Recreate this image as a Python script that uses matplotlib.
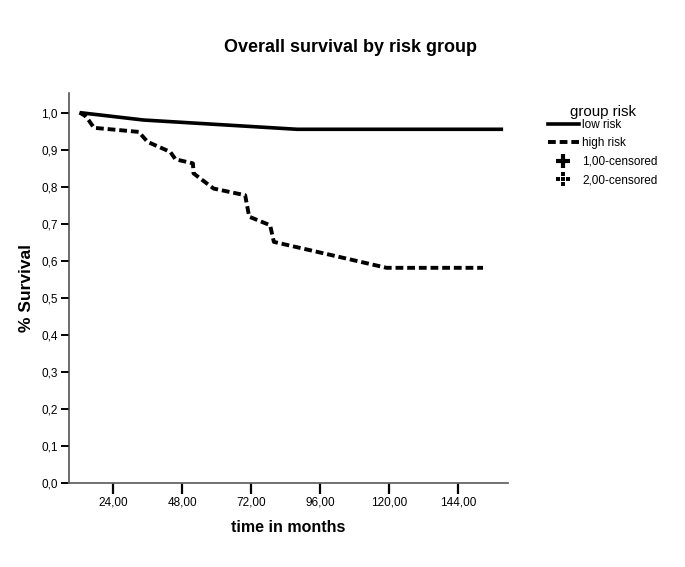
import matplotlib
matplotlib.use("Agg")
import matplotlib.pyplot as plt
from matplotlib.lines import Line2D
from matplotlib.path import Path

plt.rcParams['font.family'] = ['Liberation Sans', 'DejaVu Sans']

# Data (months, survival proportion)
low_t = [12.2, 34.5, 88.0, 159.8]
low_s = [1.000, 0.980, 0.955, 0.955]

high_t = [12.2, 14.0, 15.5, 17.2, 32.8, 35.9, 43.8, 45.6, 51.7, 51.9, 58.9,
          69.9, 71.3, 78.6, 79.9, 119.2, 152.8]
high_s = [1.000, 0.992, 0.978, 0.959, 0.948, 0.921, 0.894, 0.874, 0.863, 0.836,
          0.795, 0.777, 0.719, 0.696, 0.651, 0.581, 0.581]

x_ticks = [24, 48, 72, 96, 120, 144]
x_ticklabels = ["24,00", "48,00", "72,00", "96,00", "120,00", "144,00"]
y_ticks = [i / 10 for i in range(11)]
y_ticklabels = [f"{v:.1f}".replace(".", ",") for v in y_ticks]

fig = plt.figure(figsize=(6.85, 5.67), dpi=100)
ax = fig.add_axes([0.1007, 0.1481, 0.6409, 0.6879])

ax.plot(low_t, low_s, color='black', lw=2.6, solid_capstyle='butt')
ax.plot(high_t, high_s, color='black', lw=2.8, linestyle=(0, (2.0, 1.0)),
        dash_capstyle='butt')

ax.set_xlim(8.5, 161.5)
ax.set_ylim(0, 1.053)
ax.set_xticks(x_ticks)
ax.set_xticklabels(x_ticklabels)
ax.set_yticks(y_ticks)
ax.set_yticklabels(y_ticklabels)

for s in ['top', 'right']:
    ax.spines[s].set_visible(False)
ax.spines['left'].set_color('#444444')
ax.spines['bottom'].set_color('#666666')
ax.spines['left'].set_linewidth(1.1)
ax.spines['bottom'].set_linewidth(1.3)
ax.tick_params(axis='x', direction='out', length=8, width=1.6, color='black',
               labelsize=8.5, pad=2)
ax.tick_params(axis='y', direction='out', length=6, width=1.4, color='black',
               labelsize=8.5, pad=2)

ax.set_xlabel("time in months", fontsize=11.5, fontweight='bold', labelpad=8)
ax.set_ylabel("% Survival", fontsize=12.5, fontweight='bold', labelpad=5)
fig.text(351 / 685, 1 - 47 / 567, "Overall survival by risk group",
         fontsize=13, fontweight='bold', ha='center', va='center')

# dotted plus marker
verts, codes = [], []
for a, b in [(-1, -0.42), (-0.22, 0.22), (0.42, 1)]:
    verts += [(a, 0), (b, 0), (0, a), (0, b)]
    codes += [Path.MOVETO, Path.LINETO, Path.MOVETO, Path.LINETO]
dotted_plus = Path(verts, codes)

handles = [
    Line2D([], [], color='black', lw=2.6),
    Line2D([], [], color='black', lw=2.8, linestyle=(0, (2.0, 1.0))),
    Line2D([], [], color='black', lw=0, marker='+', markersize=10,
           markeredgewidth=3),
    Line2D([], [], color='black', lw=0, marker=dotted_plus, markersize=10,
           markeredgewidth=2.8),
]
labels = ["low risk", "high risk", "1,00-censored", "2,00-censored"]
leg = fig.legend(handles, labels, title="group risk",
                 loc='upper left', bbox_to_anchor=(542 / 685, 1 - 99 / 567),
                 frameon=False, fontsize=8.5, title_fontsize=10.8,
                 handlelength=2.6, handletextpad=0.3, labelspacing=0.55,
                 borderpad=0)
leg._legend_box.align = "center"
leg._legend_box.sep = 0

fig.savefig("out.png", dpi=100)
